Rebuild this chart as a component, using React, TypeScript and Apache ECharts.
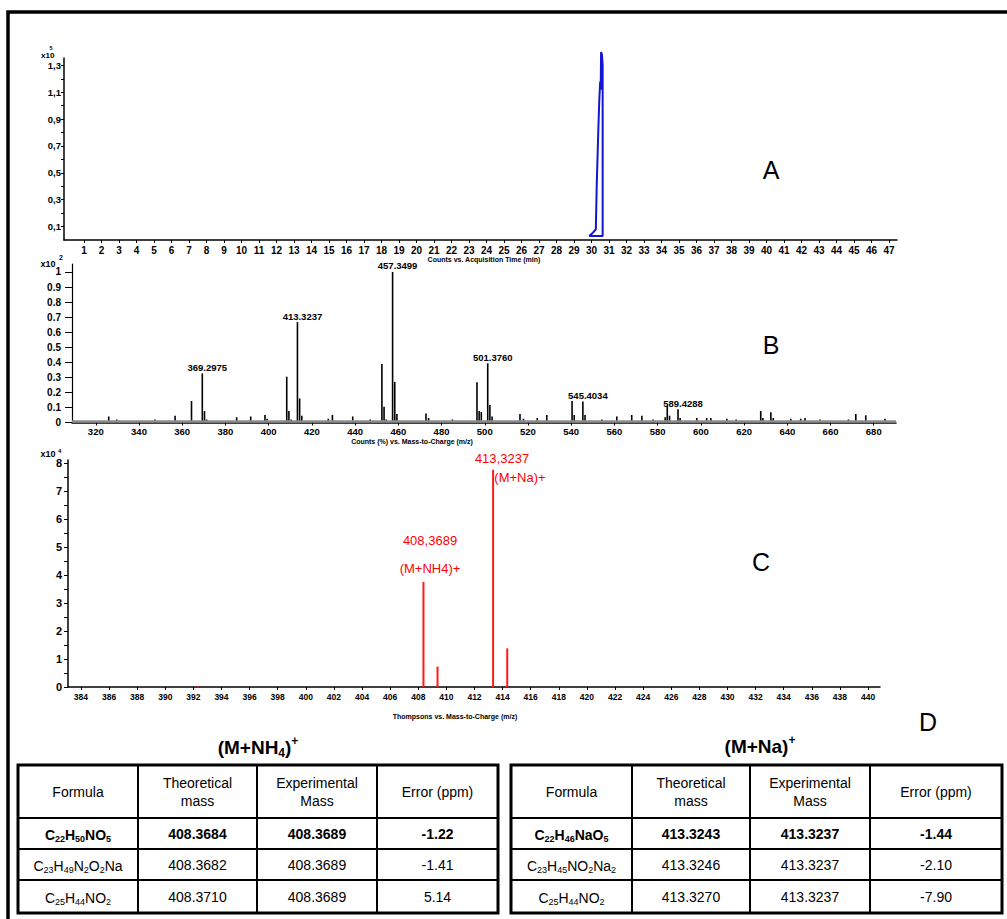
import React, { useEffect, useRef } from 'react';
import * as echarts from 'echarts';

const FONT = '"Liberation Sans", Arial, Helvetica, sans-serif';

// ---------- Panel A : chromatogram (x10^5 counts vs. time, min) ----------
const timeA = [29.87, 30.05, 30.25, 30.3, 30.4, 30.45, 30.5, 30.53, 30.55, 30.6, 30.64, 30.64, 29.87];
const countsA = [0.03, 0.05, 0.08, 0.4, 0.85, 1.05, 1.18, 1.12, 1.4, 1.38, 1.3, 0.03, 0.03];
const xTicksA = [1, 2, 3, 4, 5, 6, 7, 8, 9, 10, 11, 12, 13, 14, 15, 16, 17, 18, 19, 20, 21, 22, 23, 24, 25, 26, 27, 28, 29, 30, 31, 32, 33, 34, 35, 36, 37, 38, 39, 40, 41, 42, 43, 44, 45, 46, 47];
const yTicksA = [0.1, 0.2, 0.3, 0.4, 0.5, 0.6, 0.7, 0.8, 0.9, 1.0, 1.1, 1.2, 1.3];
const yLabelsA = [0.1, 0.3, 0.5, 0.7, 0.9, 1.1, 1.3];

// ---------- Panel B : mass spectrum (x10^2 %, vs. m/z) ----------
const mzB = [326.0, 329.7, 347.4, 356.7, 364.3, 369.2975, 370.3, 371.3, 385.2, 391.7, 398.3, 399.3, 408.37, 409.37, 410.4, 413.3237, 414.33, 415.33, 427.6, 429.5, 438.9, 447.0, 452.4, 453.4, 454.4, 457.3499, 458.35, 459.35, 472.8, 474.0, 485.0, 496.4, 497.4, 498.4, 501.376, 502.38, 503.38, 516.3, 517.9, 524.3, 528.7, 540.4, 541.4, 545.4034, 546.4, 554.2, 561.1, 568.0, 572.7, 577.9, 583.5, 584.45, 585.5, 589.4288, 590.4, 598.1, 602.7, 604.6, 612.0, 616.3, 627.7, 628.7, 632.4, 633.5, 641.6, 646.2, 648.2, 655.2, 668.3, 671.7, 676.3, 685.2];
const relB = [0.04, 0.02, 0.02, 0.045, 0.143, 0.326, 0.076, 0.02, 0.035, 0.04, 0.05, 0.025, 0.304, 0.076, 0.02, 0.667, 0.16, 0.045, 0.025, 0.05, 0.04, 0.02, 0.389, 0.105, 0.02, 1.0, 0.27, 0.056, 0.06, 0.03, 0.02, 0.267, 0.076, 0.07, 0.393, 0.116, 0.04, 0.056, 0.025, 0.03, 0.05, 0.143, 0.05, 0.14, 0.05, 0.02, 0.04, 0.05, 0.045, 0.02, 0.035, 0.11, 0.045, 0.088, 0.03, 0.03, 0.03, 0.03, 0.025, 0.02, 0.076, 0.03, 0.068, 0.03, 0.025, 0.025, 0.03, 0.02, 0.02, 0.056, 0.048, 0.025];
const labeledMzB = [369.2975, 413.3237, 457.3499, 501.376, 545.4034, 589.4288];
const labelTextB = ['369.2975', '413.3237', '457.3499', '501.3760', '545.4034', '589.4288'];
const baselineB = 0.012;
const xTicksB = [320, 340, 360, 380, 400, 420, 440, 460, 480, 500, 520, 540, 560, 580, 600, 620, 640, 660, 680];
const yTicksB = [0, 0.1, 0.2, 0.3, 0.4, 0.5, 0.6, 0.7, 0.8, 0.9, 1];

// ---------- Panel C : zoomed spectrum (x10^4 Thompsons vs. m/z) ----------
const mzC = [392.3, 408.3689, 409.37, 413.3237, 414.33];
const intC = [0.03, 3.75, 0.73, 7.75, 1.38];
const xTicksC = [384, 386, 388, 390, 392, 394, 396, 398, 400, 402, 404, 406, 408, 410, 412, 414, 416, 418, 420, 422, 424, 426, 428, 430, 432, 434, 436, 438, 440];
const yTicksC = [0, 0.5, 1, 1.5, 2, 2.5, 3, 3.5, 4, 4.5, 5, 5.5, 6, 6.5, 7, 7.5, 8];
const yLabelsC = [0, 1, 2, 3, 4, 5, 6, 7, 8];
const annotC = ['413,3237', '(M+Na)+', '408,3689', '(M+NH4)+'];

// ---------- Panel D : tables ----------
const tableHeader = ['Formula', 'Theoretical\nmass', 'Experimental\nMass', 'Error (ppm)'];
const nh4Formula = ['C22H50NO5', 'C23H49N2O2Na', 'C25H44NO2'];
const nh4Theoretical = ['408.3684', '408.3682', '408.3710'];
const nh4Experimental = ['408.3689', '408.3689', '408.3689'];
const nh4Error = ['-1.22', '-1.41', '5.14'];
const naFormula = ['C22H46NaO5', 'C23H45NO2Na2', 'C25H44NO2'];
const naTheoretical = ['413.3243', '413.3246', '413.3270'];
const naExperimental = ['413.3237', '413.3237', '413.3237'];
const naError = ['-1.44', '-2.10', '-7.90'];

function formulaRich(f: string, bold: boolean) {
  const parts = f.match(/[A-Za-z]+|\d+/g) || [];
  return parts.map((p) => (/\d/.test(p) ? `{${bold ? 'sb' : 's'}|${p}}` : `{${bold ? 'nb' : 'n'}|${p}}`)).join('');
}

const richF = {
  n: { fontSize: 14, fontFamily: FONT, fill: '#000', lineHeight: 18 },
  nb: { fontSize: 14, fontFamily: FONT, fill: '#000', lineHeight: 18, fontWeight: 'bold' },
  s: { fontSize: 9, fontFamily: FONT, fill: '#000', lineHeight: 9, verticalAlign: 'bottom' },
  sb: { fontSize: 9, fontFamily: FONT, fill: '#000', lineHeight: 9, verticalAlign: 'bottom', fontWeight: 'bold' },
};

function txt(x: number, y: number, text: string, extra: any = {}) {
  return {
    type: 'text',
    x,
    y,
    silent: true,
    style: {
      text,
      fontFamily: FONT,
      fill: '#000',
      align: 'center',
      verticalAlign: 'middle',
      ...extra,
    },
  };
}

function line(x1: number, y1: number, x2: number, y2: number, w: number) {
  return { type: 'line', silent: true, shape: { x1, y1, x2, y2 }, style: { stroke: '#000', lineWidth: w } };
}

function buildTable(cols: number[], rows: number[], formulas: string[], theo: string[], exp: string[], err: string[]) {
  const els: any[] = [];
  const left = cols[0];
  const right = cols[cols.length - 1];
  const top = rows[0];
  const bottom = rows[rows.length - 1];
  els.push({ type: 'rect', silent: true, shape: { x: left, y: top, width: right - left, height: bottom - top }, style: { fill: '#fff', stroke: '#000', lineWidth: 3 } });
  for (let i = 1; i < cols.length - 1; i++) els.push(line(cols[i], top, cols[i], bottom, 2));
  for (let j = 1; j < rows.length - 1; j++) els.push(line(left, rows[j], right, rows[j], 2));
  const cx = (i: number) => (cols[i] + cols[i + 1]) / 2;
  const cy = (j: number) => (rows[j] + rows[j + 1]) / 2;
  tableHeader.forEach((h, i) => els.push(txt(cx(i), cy(0), h, { fontSize: 14, lineHeight: 18 })));
  for (let r = 0; r < formulas.length; r++) {
    const bold = r === 0;
    els.push(txt(cx(0), cy(r + 1) + 1, formulaRich(formulas[r], bold), { rich: richF }));
    [theo[r], exp[r], err[r]].forEach((v, k) =>
      els.push(txt(cx(k + 1), cy(r + 1), v, { fontSize: 14, fontWeight: bold ? 'bold' : 'normal' }))
    );
  }
  return els;
}

const titleRich = {
  t: { fontSize: 19, fontFamily: FONT, fontWeight: 'bold', fill: '#000', lineHeight: 24 },
  sub: { fontSize: 12, fontFamily: FONT, fontWeight: 'bold', fill: '#000', lineHeight: 12, verticalAlign: 'bottom' },
  sup: { fontSize: 12, fontFamily: FONT, fontWeight: 'bold', fill: '#000', lineHeight: 12, verticalAlign: 'top' },
};

const axisLabelBase = { color: '#000', fontWeight: 'bold', fontFamily: FONT };
const axisLineBase = { show: true, onZero: false, lineStyle: { color: '#000', width: 1.5 } };

export default function App() {
  const ref = useRef<HTMLDivElement>(null);
  useEffect(() => {
    if (!ref.current) return;
    const chart = echarts.init(ref.current, undefined, { renderer: 'svg' });

    const dataB = mzB.map((m, i) => {
      const k = labeledMzB.indexOf(m);
      if (k < 0) return [m, relB[i]];
      return {
        value: [m, relB[i]],
        label: {
          show: true,
          formatter: labelTextB[k],
          position: 'top',
          distance: 1,
          offset: [5, 0],
          fontSize: 9.5,
          fontWeight: 'bold',
          fontFamily: FONT,
          color: '#000',
        },
      };
    });

    const graphic: any[] = [
      { type: 'rect', silent: true, shape: { x: 8, y: 12, width: 1100, height: 1000 }, style: { fill: 'none', stroke: '#000', lineWidth: 3.5 } },
      // panel letters
      txt(771, 170, 'A', { fontSize: 25 }),
      txt(771, 345, 'B', { fontSize: 25 }),
      txt(761, 562, 'C', { fontSize: 25 }),
      txt(928, 722, 'D', { fontSize: 25 }),
      // axis titles
      txt(484, 259, 'Counts vs. Acquisition Time (min)', { fontSize: 7, fontWeight: 'bold' }),
      txt(412, 441, 'Counts (%) vs. Mass-to-Charge (m/z)', { fontSize: 7, fontWeight: 'bold' }),
      txt(455, 716, 'Thompsons vs. Mass-to-Charge (m/z)', { fontSize: 7, fontWeight: 'bold' }),
      // exponents
      txt(41, 55, 'x10', { fontSize: 8, fontWeight: 'bold', align: 'left' }),
      txt(51, 47.5, '5', { fontSize: 5.5, fontWeight: 'bold' }),
      txt(40.5, 263.5, 'x10', { fontSize: 9, fontWeight: 'bold', align: 'left' }),
      txt(61, 257.5, '2', { fontSize: 7, fontWeight: 'bold' }),
      txt(40.5, 453.5, 'x10', { fontSize: 9, fontWeight: 'bold', align: 'left' }),
      txt(59.7, 451, '4', { fontSize: 6, fontWeight: 'bold' }),
      // annotations panel C
      txt(502, 458, annotC[0], { fontSize: 13, fill: '#ff0000' }),
      txt(520, 477, annotC[1], { fontSize: 13, fill: '#ff0000' }),
      txt(430, 540, annotC[2], { fontSize: 13, fill: '#ff0000' }),
      txt(430, 568, annotC[3], { fontSize: 13, fill: '#ff0000' }),
      // table titles
      txt(258, 747, '{t|(M+NH}{sub|4}{t|)}{sup|+}', { rich: titleRich }),
      txt(760, 746, '{t|(M+Na)}{sup|+}', { rich: titleRich }),
      ...buildTable([18, 138, 257, 377, 498], [765, 818, 849, 880, 913], nh4Formula, nh4Theoretical, nh4Experimental, nh4Error),
      ...buildTable([511, 632, 750, 870, 1002], [765, 818, 849, 880, 913], naFormula, naTheoretical, naExperimental, naError),
    ];

    chart.setOption({
      animation: false,
      backgroundColor: '#fff',
      grid: [
        { left: 64, top: 58, width: 833, height: 182, outerBoundsMode: 'none' },
        { left: 72, top: 264, width: 824, height: 158.5, outerBoundsMode: 'none' },
        { left: 68, top: 460, width: 812, height: 227, outerBoundsMode: 'none' },
      ],
      xAxis: [
        {
          type: 'value', gridIndex: 0, min: -0.14, max: 47.46,
          axisLine: axisLineBase,
          axisTick: { show: true, customValues: xTicksA, length: 3, lineStyle: { color: '#000' } },
          axisLabel: { ...axisLabelBase, customValues: xTicksA, margin: 5, fontSize: 10 },
          splitLine: { show: false },
        },
        {
          type: 'value', gridIndex: 1, min: 309, max: 690.3,
          axisLine: axisLineBase,
          axisTick: { show: true, customValues: xTicksB, length: 3, lineStyle: { color: '#000' } },
          axisLabel: { ...axisLabelBase, customValues: xTicksB, margin: 4, fontSize: 9.5 },
          splitLine: { show: false },
        },
        {
          type: 'value', gridIndex: 2, min: 383.08, max: 440.85,
          axisLine: axisLineBase,
          axisTick: { show: true, customValues: xTicksC, length: 3, lineStyle: { color: '#000' } },
          axisLabel: { ...axisLabelBase, customValues: xTicksC, margin: 5, fontSize: 8.5 },
          splitLine: { show: false },
        },
      ],
      yAxis: [
        {
          type: 'value', gridIndex: 0, min: 0, max: 1.355,
          axisLine: axisLineBase,
          axisTick: { show: true, customValues: yTicksA, length: 3, lineStyle: { color: '#000' } },
          axisLabel: { ...axisLabelBase, customValues: yLabelsA, margin: 3, fontSize: 9.5, formatter: (v: number) => v.toFixed(1).replace('.', ',') },
          splitLine: { show: false },
        },
        {
          type: 'value', gridIndex: 1, min: 0, max: 1.053,
          axisLine: { ...axisLineBase, lineStyle: { color: '#000', width: 1.2 } },
          axisTick: { show: true, customValues: yTicksB, length: 7, lineStyle: { color: '#000' } },
          axisLabel: { ...axisLabelBase, customValues: yTicksB, margin: 11, fontSize: 10, formatter: (v: number) => String(Number(v.toFixed(1))) },
          splitLine: { show: false },
        },
        {
          type: 'value', gridIndex: 2, min: 0, max: 8.1,
          axisLine: axisLineBase,
          axisTick: { show: true, customValues: yTicksC, length: 4, lineStyle: { color: '#000' } },
          axisLabel: { ...axisLabelBase, customValues: yLabelsC, margin: 6, fontSize: 11 },
          splitLine: { show: false },
        },
      ],
      series: [
        {
          type: 'line', xAxisIndex: 0, yAxisIndex: 0,
          data: timeA.map((t, i) => [t, countsA[i]]),
          symbol: 'none', clip: false,
          lineStyle: { color: '#1515d6', width: 2 },
        },
        {
          type: 'bar', xAxisIndex: 1, yAxisIndex: 1,
          data: dataB, barWidth: 1.6,
          itemStyle: { color: '#000' },
          markLine: {
            silent: true, symbol: ['none', 'none'],
            label: { show: false },
            lineStyle: { color: '#8c8c8c', width: 2.5, type: 'solid' },
            data: [{ yAxis: baselineB }],
          },
        },
        {
          type: 'bar', xAxisIndex: 2, yAxisIndex: 2,
          data: mzC.map((m, i) => [m, intC[i]]), barWidth: 2,
          itemStyle: { color: '#ff1a1a' },
        },
      ],
      graphic,
    });
    return () => chart.dispose();
  }, []);
  return <div ref={ref} style={{ position: 'absolute', left: 0, top: 0, width: 1007, height: 919, background: '#fff' }} />;
}
